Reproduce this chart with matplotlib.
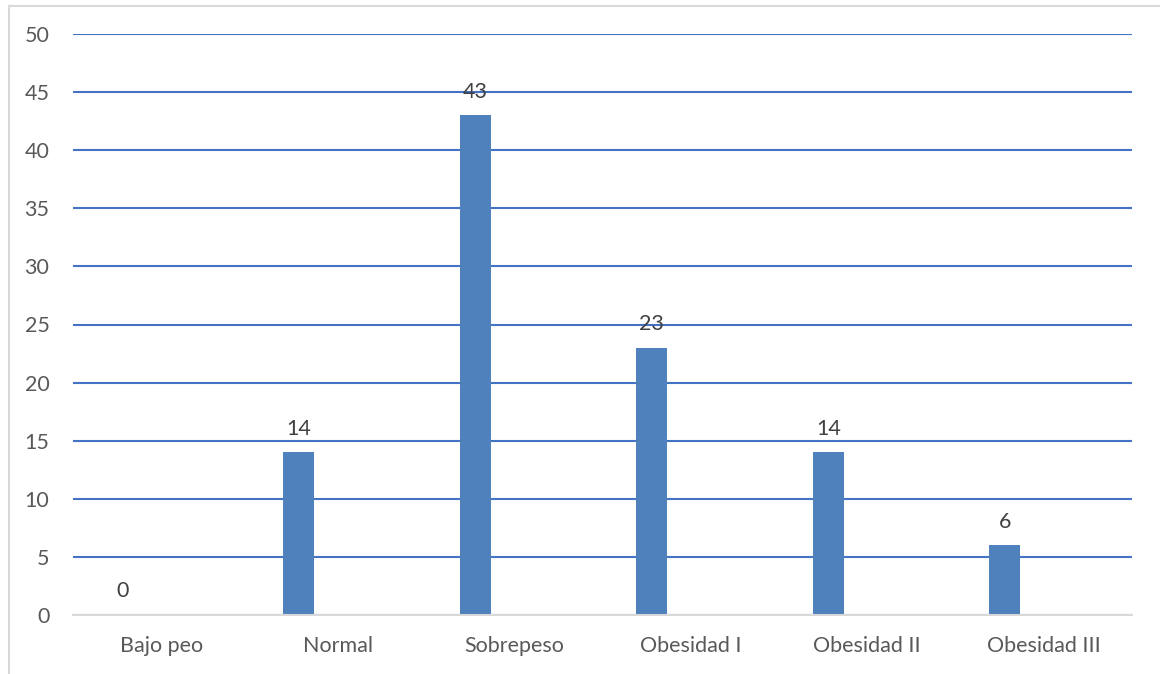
import matplotlib.pyplot as plt
from matplotlib.lines import Line2D
import numpy as np

# Categories and counts
categorias = ["Bajo peo", "Normal", "Sobrepeso", "Obesidad I", "Obesidad II", "Obesidad III"]
valores = [0, 14, 43, 23, 14, 6]

plt.rcParams['font.family'] = ['Lato', 'DejaVu Sans']

W, H = 1160, 674
fig = plt.figure(figsize=(W / 100, H / 100), dpi=100)
ax = fig.add_axes([73 / W, 1 - 615 / H, (1132 - 73) / W, (615 - 34) / H])

x = np.arange(len(categorias))
offset = -0.22
barras = ax.bar(x + offset, valores, width=0.176, color="#4F81BD", zorder=3)

# Value labels above each bar
for xi, v in zip(x, valores):
    ax.annotate(str(v), (xi + offset, v), xytext=(0, 17), textcoords="offset points",
                ha="center", va="center", fontsize=15.5, color="#404040")

ax.set_xlim(-0.5, len(categorias) - 0.5)
ax.set_ylim(0, 50)
ax.set_yticks(range(0, 51, 5))
ax.set_xticks(x)
ax.set_xticklabels(categorias)
ax.yaxis.grid(True, color="#4472C4", linewidth=1.5, zorder=0)
ax.tick_params(axis="y", length=0, pad=17, labelsize=15.5, labelcolor="#595959")
ax.tick_params(axis="x", length=0, pad=15, labelsize=15.5, labelcolor="#595959")
for s in ["top", "right", "left"]:
    ax.spines[s].set_visible(False)
ax.spines["bottom"].set_color("#D9D9D9")
ax.spines["bottom"].set_linewidth(1.5)
ax.spines["bottom"].set_zorder(4)

# Chart frame
fig.add_artist(Line2D([9 / W, 1], [1 - 5.5 / H, 1 - 5.5 / H], color="#D9D9D9", linewidth=1.5))
fig.add_artist(Line2D([9 / W, 9 / W], [0, 1 - 5.5 / H], color="#D9D9D9", linewidth=1.5))

fig.savefig("out.png", dpi=100)
